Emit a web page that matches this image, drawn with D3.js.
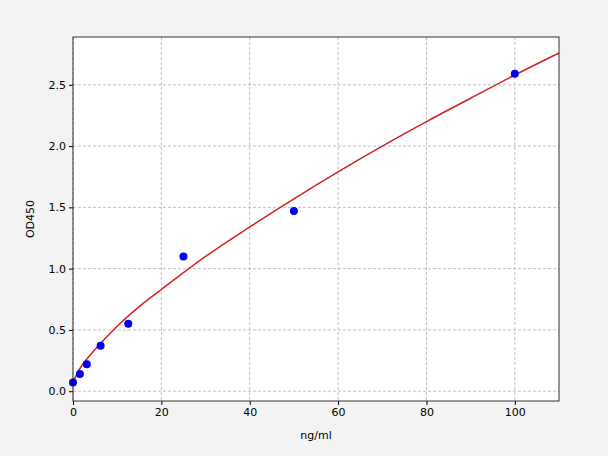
<!DOCTYPE html>
<html><head><meta charset="utf-8">
<script src="https://cdn.jsdelivr.net/npm/d3@7"></script>
<style>body{margin:0;background:#f3f3f3}text{font-family:"DejaVu Sans",sans-serif}</style>
</head><body><svg id="c" width="608" height="456"></svg>
<script>
const pointX = [0, 1.5625, 3.125, 6.25, 12.5, 25, 50, 100];
const pointY = [0.07, 0.14, 0.22, 0.37, 0.55, 1.10, 1.47, 2.59];
const curveX = [0, 1, 2, 4, 6, 10, 15, 20, 30, 40, 50, 60, 70, 80, 90, 100, 110];
const curveY = [0.07, 0.15, 0.21, 0.30, 0.38, 0.53, 0.69, 0.83, 1.10, 1.34, 1.57, 1.79, 2.00, 2.20, 2.39, 2.58, 2.76];
const xTicks = [0, 20, 40, 60, 80, 100];
const yTicks = [0, 0.5, 1.0, 1.5, 2.0, 2.5];

const m = { top: 37, right: 49, bottom: 55, left: 73 };
const W = 608, H = 456;
const svg = d3.select("#c");
const x = d3.scaleLinear().domain([0, 110]).range([m.left, W - m.right]);
const y = d3.scaleLinear().domain([-0.08, 2.89]).range([H - m.bottom, m.top]);

svg.append("rect").attr("x", m.left).attr("y", m.top)
  .attr("width", W - m.left - m.right).attr("height", H - m.top - m.bottom).attr("fill", "#fff");

const grid = svg.append("g").attr("stroke", "#b0b0b0").attr("stroke-dasharray", "3,2").attr("stroke-width", 0.8);
xTicks.forEach(t => grid.append("line").attr("x1", x(t)).attr("x2", x(t)).attr("y1", m.top).attr("y2", H - m.bottom));
yTicks.forEach(t => grid.append("line").attr("y1", y(t)).attr("y2", y(t)).attr("x1", m.left).attr("x2", W - m.right));

svg.append("g").attr("transform", `translate(0,${H - m.bottom})`)
  .call(d3.axisBottom(x).tickValues(xTicks).tickSize(4).tickPadding(3).tickFormat(d3.format("d")))
  .call(g => g.select(".domain").remove())
  .selectAll("text").attr("font-size", 11).attr("fill", "#000");
svg.append("g").attr("transform", `translate(${m.left},0)`)
  .call(d3.axisLeft(y).tickValues(yTicks).tickSize(4).tickPadding(3).tickFormat(d3.format(".1f")))
  .call(g => g.select(".domain").remove())
  .selectAll("text").attr("font-size", 11).attr("fill", "#000");

const line = d3.line().x(d => x(d[0])).y(d => y(d[1])).curve(d3.curveMonotoneX);
svg.append("path").datum(d3.zip(curveX, curveY)).attr("d", line)
  .attr("fill", "none").attr("stroke", "#d62020").attr("stroke-width", 1.5);

svg.append("g").selectAll("circle").data(d3.zip(pointX, pointY)).join("circle")
  .attr("cx", d => x(d[0])).attr("cy", d => y(d[1])).attr("r", 4).attr("fill", "#0000ee");

svg.append("rect").attr("x", m.left).attr("y", m.top)
  .attr("width", W - m.left - m.right).attr("height", H - m.top - m.bottom)
  .attr("fill", "none").attr("stroke", "#000").attr("stroke-width", 0.8);

svg.append("text").attr("x", (m.left + W - m.right) / 2).attr("y", 439)
  .attr("text-anchor", "middle").attr("font-size", 11).text("ng/ml");
svg.append("text").attr("transform", `translate(34,${(m.top + H - m.bottom) / 2}) rotate(-90)`)
  .attr("text-anchor", "middle").attr("font-size", 11).text("OD450");
</script></body></html>
